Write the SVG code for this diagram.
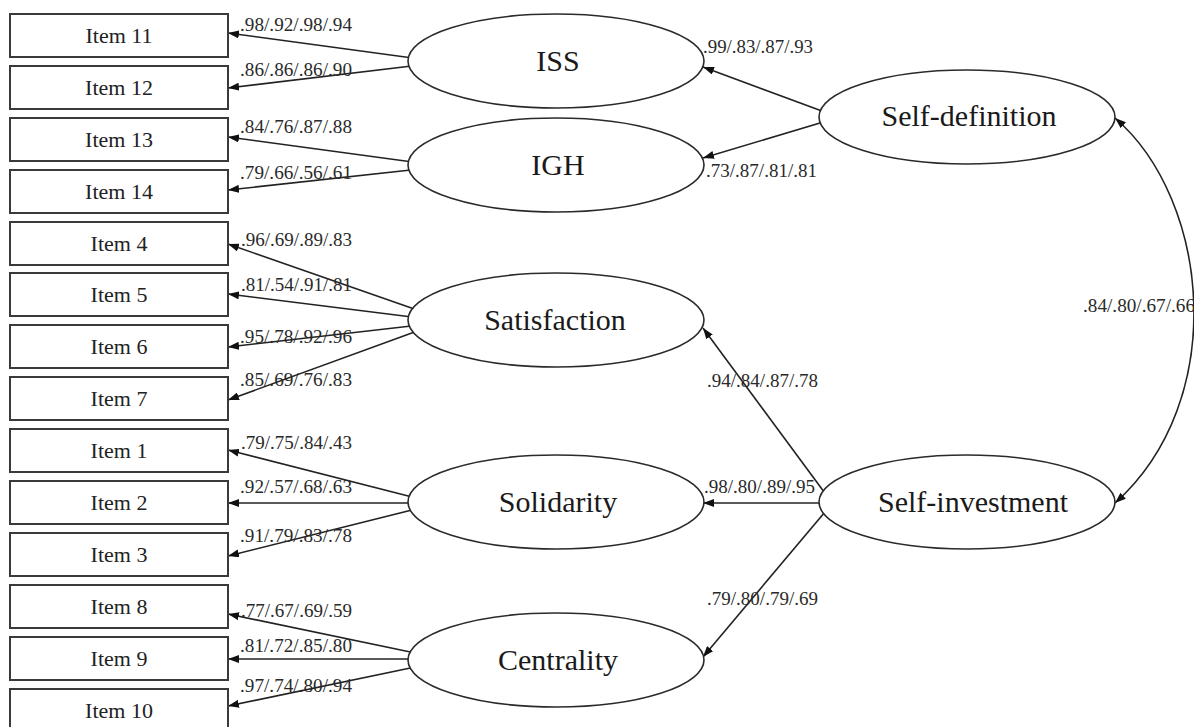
<svg xmlns="http://www.w3.org/2000/svg" width="1194" height="727" viewBox="0 0 1194 727">
<style>
  .box{fill:#fff;stroke:#3a3a3a;stroke-width:2}
  .lat{fill:#fff;stroke:#2a2a2a;stroke-width:1.6}
  .itxt{font-family:"Liberation Serif",serif;font-size:22px;fill:#222;text-anchor:middle}
  .ltxt{font-family:"Liberation Serif",serif;font-size:30px;fill:#1a1a1a;text-anchor:middle}
  .num{font-family:"Liberation Serif",serif;font-size:18px;fill:#2a2a2a}
  .con line,.con path{stroke:#222;stroke-width:1.6;fill:none;marker-end:url(#ah)}
  .con path.dbl{marker-start:url(#ah)}
</style>
<defs>
  <marker id="ah" markerUnits="userSpaceOnUse" markerWidth="12" markerHeight="8" refX="11" refY="4" orient="auto-start-reverse">
    <path d="M0,0 L11,4 L0,8 z" fill="#111"/>
  </marker>
</defs>
<rect width="1194" height="727" fill="#fff"/>

<g id="connectors" class="con">
  <line x1="420" y1="59" x2="228" y2="33"/>
  <line x1="420" y1="65" x2="228" y2="88"/>
  <line x1="420" y1="163" x2="228" y2="137"/>
  <line x1="420" y1="169" x2="228" y2="190"/>
  <line x1="420" y1="311" x2="228" y2="244"/>
  <line x1="420" y1="318" x2="228" y2="294"/>
  <line x1="420" y1="325" x2="228" y2="347"/>
  <line x1="420" y1="330" x2="228" y2="400"/>
  <line x1="420" y1="499" x2="228" y2="450"/>
  <line x1="420" y1="503" x2="228" y2="503"/>
  <line x1="420" y1="508" x2="228" y2="556"/>
  <line x1="420" y1="654" x2="228" y2="614"/>
  <line x1="420" y1="659" x2="228" y2="659"/>
  <line x1="420" y1="666" x2="228" y2="706"/>
  <line x1="830" y1="114" x2="703" y2="67"/>
  <line x1="830" y1="120" x2="703" y2="158"/>
  <line x1="830" y1="500" x2="703" y2="328"/>
  <line x1="830" y1="503" x2="703" y2="503"/>
  <line x1="830" y1="506" x2="703" y2="657"/>
  <path class="dbl" d="M1115,118 C1210,200 1230,400 1115,503"/>
</g>

<g id="item11"><rect class="box" x="10" y="14" width="218" height="43"/><text class="itxt" x="119" y="43">Item 11</text></g>
<g id="item12"><rect class="box" x="10" y="66" width="218" height="43"/><text class="itxt" x="119" y="95">Item 12</text></g>
<g id="item13"><rect class="box" x="10" y="118" width="218" height="43"/><text class="itxt" x="119" y="147">Item 13</text></g>
<g id="item14"><rect class="box" x="10" y="170" width="218" height="43"/><text class="itxt" x="119" y="199">Item 14</text></g>
<g id="item4"><rect class="box" x="10" y="222" width="218" height="43"/><text class="itxt" x="119" y="251">Item 4</text></g>
<g id="item5"><rect class="box" x="10" y="273" width="218" height="43"/><text class="itxt" x="119" y="302">Item 5</text></g>
<g id="item6"><rect class="box" x="10" y="325" width="218" height="43"/><text class="itxt" x="119" y="354">Item 6</text></g>
<g id="item7"><rect class="box" x="10" y="377" width="218" height="43"/><text class="itxt" x="119" y="406">Item 7</text></g>
<g id="item1"><rect class="box" x="10" y="429" width="218" height="43"/><text class="itxt" x="119" y="458">Item 1</text></g>
<g id="item2"><rect class="box" x="10" y="481" width="218" height="43"/><text class="itxt" x="119" y="510">Item 2</text></g>
<g id="item3"><rect class="box" x="10" y="533" width="218" height="43"/><text class="itxt" x="119" y="562">Item 3</text></g>
<g id="item8"><rect class="box" x="10" y="585" width="218" height="43"/><text class="itxt" x="119" y="614">Item 8</text></g>
<g id="item9"><rect class="box" x="10" y="637" width="218" height="43"/><text class="itxt" x="119" y="666">Item 9</text></g>
<g id="item10"><rect class="box" x="10" y="689" width="218" height="43"/><text class="itxt" x="119" y="718">Item 10</text></g>

<g id="ISS"><ellipse class="lat" cx="556" cy="61" rx="148" ry="47"/><text class="ltxt" x="558" y="71">ISS</text></g>
<g id="IGH"><ellipse class="lat" cx="556" cy="165" rx="148" ry="47"/><text class="ltxt" x="558" y="175">IGH</text></g>
<g id="Satisfaction"><ellipse class="lat" cx="556" cy="320" rx="148" ry="47"/><text class="ltxt" x="555" y="330">Satisfaction</text></g>
<g id="Solidarity"><ellipse class="lat" cx="556" cy="502" rx="148" ry="47"/><text class="ltxt" x="558" y="512">Solidarity</text></g>
<g id="Centrality"><ellipse class="lat" cx="556" cy="660" rx="148" ry="47"/><text class="ltxt" x="558" y="670">Centrality</text></g>
<g id="Self-definition"><ellipse class="lat" cx="967" cy="117" rx="148" ry="47"/><text class="ltxt" x="969" y="126">Self-definition</text></g>
<g id="Self-investment"><ellipse class="lat" cx="967" cy="502" rx="148" ry="47"/><text class="ltxt" x="973" y="512">Self-investment</text></g>

<g id="loadings">
  <text class="num" x="240" y="31" textLength="112" lengthAdjust="spacingAndGlyphs">.98/.92/.98/.94</text>
  <text class="num" x="240" y="76" textLength="112" lengthAdjust="spacingAndGlyphs">.86/.86/.86/.90</text>
  <text class="num" x="240" y="133" textLength="112" lengthAdjust="spacingAndGlyphs">.84/.76/.87/.88</text>
  <text class="num" x="240" y="179" textLength="112" lengthAdjust="spacingAndGlyphs">.79/.66/.56/.61</text>
  <text class="num" x="241" y="246" textLength="111" lengthAdjust="spacingAndGlyphs">.96/.69/.89/.83</text>
  <text class="num" x="241" y="291" textLength="111" lengthAdjust="spacingAndGlyphs">.81/.54/.91/.81</text>
  <text class="num" x="240" y="343" textLength="112" lengthAdjust="spacingAndGlyphs">.95/.78/.92/.96</text>
  <text class="num" x="240" y="386" textLength="112" lengthAdjust="spacingAndGlyphs">.85/.69/.76/.83</text>
  <text class="num" x="241" y="449" textLength="111" lengthAdjust="spacingAndGlyphs">.79/.75/.84/.43</text>
  <text class="num" x="240" y="493" textLength="112" lengthAdjust="spacingAndGlyphs">.92/.57/.68/.63</text>
  <text class="num" x="240" y="542" textLength="112" lengthAdjust="spacingAndGlyphs">.91/.79/.83/.78</text>
  <text class="num" x="241" y="617" textLength="111" lengthAdjust="spacingAndGlyphs">.77/.67/.69/.59</text>
  <text class="num" x="240" y="652" textLength="112" lengthAdjust="spacingAndGlyphs">.81/.72/.85/.80</text>
  <text class="num" x="240" y="692" textLength="112" lengthAdjust="spacingAndGlyphs">.97/.74/.80/.94</text>
  <text class="num" x="703" y="53" textLength="110" lengthAdjust="spacingAndGlyphs">.99/.83/.87/.93</text>
  <text class="num" x="706" y="177" textLength="111" lengthAdjust="spacingAndGlyphs">.73/.87/.81/.81</text>
  <text class="num" x="707" y="387" textLength="111" lengthAdjust="spacingAndGlyphs">.94/.84/.87/.78</text>
  <text class="num" x="704" y="493" textLength="111" lengthAdjust="spacingAndGlyphs">.98/.80/.89/.95</text>
  <text class="num" x="707" y="605" textLength="111" lengthAdjust="spacingAndGlyphs">.79/.80/.79/.69</text>
  <text class="num" x="1083" y="312" textLength="112" lengthAdjust="spacingAndGlyphs">.84/.80/.67/.66</text>
</g>
</svg>
